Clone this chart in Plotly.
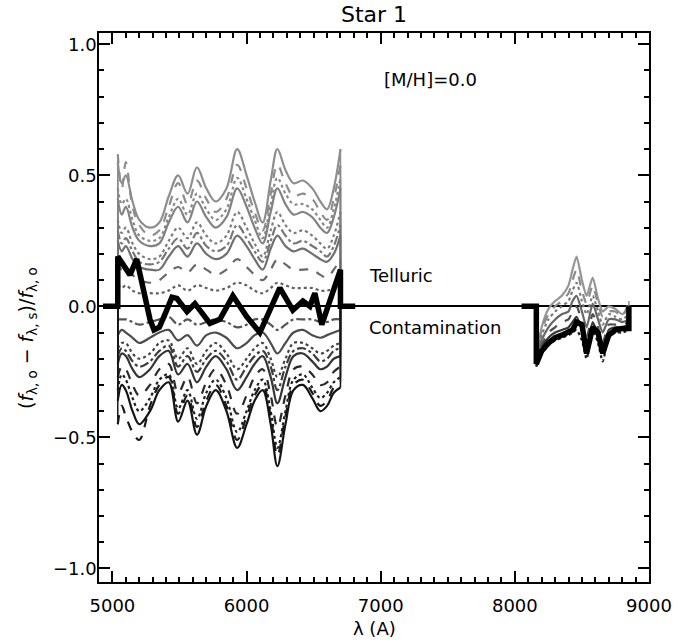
import plotly.graph_objects as go

# ---------------- data ----------------
left_x = [5040, 5070, 5100, 5150, 5200, 5280, 5350, 5420, 5490, 5560, 5630, 5700, 5770, 5850,
          5930, 6000, 6060, 6120, 6180, 6230, 6290, 6350, 6420, 6490, 6550, 6600, 6650, 6700]

lg_p100 = [0.55, 0.47, 0.50, 0.40, 0.33, 0.30, 0.32, 0.42, 0.50, 0.43, 0.53, 0.45, 0.40, 0.45,
           0.60, 0.50, 0.40, 0.32, 0.48, 0.60, 0.52, 0.47, 0.48, 0.45, 0.40, 0.37, 0.45, 0.60]
lg_p90 = [0.58, 0.45, 0.55, 0.38, 0.31, 0.27, 0.29, 0.38, 0.47, 0.39, 0.48, 0.41, 0.36, 0.41,
          0.54, 0.45, 0.36, 0.29, 0.43, 0.54, 0.47, 0.42, 0.43, 0.41, 0.36, 0.33, 0.41, 0.54]
lg_p82 = [0.45, 0.39, 0.41, 0.33, 0.27, 0.25, 0.26, 0.34, 0.41, 0.35, 0.43, 0.37, 0.33, 0.37,
          0.49, 0.41, 0.33, 0.26, 0.39, 0.49, 0.43, 0.39, 0.39, 0.37, 0.33, 0.30, 0.37, 0.49]
lg_p75 = [0.41, 0.35, 0.38, 0.30, 0.25, 0.23, 0.24, 0.32, 0.38, 0.32, 0.40, 0.34, 0.30, 0.34,
          0.45, 0.38, 0.30, 0.24, 0.36, 0.45, 0.39, 0.35, 0.36, 0.34, 0.30, 0.28, 0.34, 0.45]
lg_p60 = [0.33, 0.28, 0.30, 0.24, 0.20, 0.18, 0.19, 0.25, 0.30, 0.26, 0.32, 0.27, 0.24, 0.27,
          0.36, 0.30, 0.24, 0.19, 0.29, 0.36, 0.31, 0.28, 0.29, 0.27, 0.24, 0.22, 0.27, 0.36]
lg_p52 = [0.29, 0.24, 0.26, 0.21, 0.17, 0.16, 0.17, 0.22, 0.26, 0.22, 0.28, 0.23, 0.21, 0.23,
          0.31, 0.26, 0.21, 0.17, 0.25, 0.31, 0.27, 0.24, 0.25, 0.23, 0.21, 0.19, 0.23, 0.31]
lg_p45 = [0.25, 0.21, 0.23, 0.18, 0.15, 0.14, 0.14, 0.19, 0.23, 0.19, 0.24, 0.20, 0.18, 0.20,
          0.27, 0.23, 0.18, 0.14, 0.22, 0.27, 0.23, 0.21, 0.22, 0.20, 0.18, 0.17, 0.20, 0.27]
lg_p30 = [0.17, 0.14, 0.15, 0.12, 0.10, 0.09, 0.10, 0.13, 0.15, 0.13, 0.16, 0.14, 0.12, 0.14,
          0.18, 0.15, 0.12, 0.10, 0.14, 0.18, 0.16, 0.14, 0.14, 0.14, 0.12, 0.11, 0.14, 0.18]
lg_p15 = [0.08, 0.07, 0.08, 0.06, 0.05, 0.05, 0.05, 0.06, 0.08, 0.06, 0.08, 0.07, 0.06, 0.07,
          0.09, 0.08, 0.06, 0.05, 0.07, 0.09, 0.08, 0.07, 0.07, 0.07, 0.06, 0.06, 0.07, 0.09]
lg_m15 = [-0.05, -0.05, -0.05, -0.06, -0.07, -0.06, -0.05, -0.04, -0.07, -0.05, -0.07, -0.06, -0.05, -0.06,
          -0.08, -0.07, -0.05, -0.05, -0.07, -0.09, -0.07, -0.05, -0.05, -0.05, -0.06, -0.06, -0.05, -0.05]
lg_m30 = [-0.11, -0.09, -0.10, -0.12, -0.14, -0.12, -0.10, -0.09, -0.13, -0.11, -0.15, -0.11, -0.10, -0.12,
          -0.16, -0.14, -0.11, -0.10, -0.14, -0.18, -0.14, -0.10, -0.09, -0.11, -0.12, -0.11, -0.10, -0.09]
lg_m45 = [-0.16, -0.14, -0.14, -0.18, -0.20, -0.18, -0.14, -0.13, -0.20, -0.16, -0.22, -0.17, -0.14, -0.18,
          -0.24, -0.20, -0.16, -0.14, -0.20, -0.27, -0.20, -0.14, -0.14, -0.16, -0.18, -0.17, -0.15, -0.14]
lg_m52 = [-0.19, -0.16, -0.17, -0.21, -0.23, -0.21, -0.17, -0.15, -0.23, -0.19, -0.25, -0.20, -0.17, -0.21,
          -0.28, -0.23, -0.19, -0.17, -0.23, -0.32, -0.23, -0.17, -0.16, -0.18, -0.21, -0.20, -0.17, -0.16]
lg_m60 = [-0.22, -0.18, -0.19, -0.24, -0.27, -0.24, -0.19, -0.17, -0.26, -0.22, -0.29, -0.23, -0.19, -0.24,
          -0.32, -0.27, -0.22, -0.19, -0.27, -0.37, -0.27, -0.19, -0.18, -0.21, -0.24, -0.23, -0.20, -0.19]
lg_m75 = [-0.27, -0.23, -0.24, -0.30, -0.34, -0.30, -0.24, -0.22, -0.33, -0.27, -0.37, -0.29, -0.24, -0.30,
          -0.41, -0.34, -0.27, -0.24, -0.34, -0.46, -0.34, -0.24, -0.23, -0.26, -0.30, -0.29, -0.25, -0.23]
lg_m88 = [-0.32, -0.26, -0.28, -0.35, -0.40, -0.35, -0.28, -0.26, -0.39, -0.32, -0.43, -0.33, -0.28, -0.35,
          -0.48, -0.40, -0.32, -0.28, -0.40, -0.54, -0.40, -0.28, -0.26, -0.31, -0.35, -0.33, -0.29, -0.27]
lg_m94 = [-0.45, -0.38, -0.42, -0.48, -0.51, -0.38, -0.30, -0.27, -0.41, -0.34, -0.46, -0.36, -0.30, -0.38,
          -0.51, -0.42, -0.34, -0.30, -0.42, -0.57, -0.42, -0.30, -0.28, -0.33, -0.38, -0.36, -0.31, -0.29]
lg_m100 = [-0.36, -0.30, -0.32, -0.40, -0.45, -0.40, -0.32, -0.29, -0.44, -0.36, -0.49, -0.38, -0.32, -0.40,
           -0.54, -0.45, -0.36, -0.32, -0.45, -0.61, -0.45, -0.32, -0.30, -0.35, -0.40, -0.38, -0.33, -0.31]

right_x = [8160, 8200, 8250, 8300, 8350, 8400, 8430, 8460, 8500, 8535, 8580, 8620, 8655, 8700, 8750, 8800, 8850]
rg_1 = [-0.20, -0.08, -0.01, 0.02, 0.04, 0.08, 0.14, 0.19, 0.10, 0.04, 0.11, 0.03, -0.02, 0.00, -0.01, -0.03, 0.00]
rg_2 = [-0.20, -0.09, -0.03, 0.00, 0.02, 0.05, 0.10, 0.14, 0.06, 0.01, 0.08, 0.01, -0.04, -0.02, -0.02, -0.04, 0.02]
rg_3 = [-0.21, -0.11, -0.05, -0.02, 0.00, 0.02, 0.06, 0.09, 0.02, -0.03, 0.04, -0.02, -0.07, -0.03, -0.04, -0.05, -0.03]
rg_4 = [-0.21, -0.13, -0.08, -0.05, -0.03, -0.02, 0.02, 0.04, -0.02, -0.08, 0.01, -0.05, -0.10, -0.05, -0.05, -0.06, -0.05]
rg_5 = [-0.22, -0.15, -0.10, -0.08, -0.06, -0.05, -0.02, 0.00, -0.06, -0.12, -0.03, -0.08, -0.14, -0.07, -0.07, -0.07, -0.06]
rg_6 = [-0.22, -0.16, -0.12, -0.10, -0.09, -0.08, -0.06, -0.04, -0.09, -0.16, -0.06, -0.11, -0.17, -0.09, -0.08, -0.08, -0.07]
rg_7 = [-0.23, -0.18, -0.15, -0.13, -0.12, -0.11, -0.10, -0.09, -0.13, -0.20, -0.09, -0.14, -0.21, -0.12, -0.10, -0.10, -0.09]

star_left_x = [4930, 5040, 5040, 5131, 5181, 5205, 5280, 5310, 5350, 5400, 5444, 5481, 5556, 5615, 5727,
               5801, 5898, 6002, 6099, 6248, 6345, 6420, 6472, 6509, 6561, 6700, 6700, 6810]
star_left_y = [0, 0, 0.19, 0.12, 0.18, 0.12, -0.05, -0.09, -0.08, -0.02, 0.035, 0.03, -0.02, 0.01, -0.065,
               -0.05, 0.04, -0.04, -0.10, 0.07, -0.015, 0.02, 0.0, 0.05, -0.07, 0.14, 0, 0]
star_right_x = [8050, 8160, 8160, 8200, 8250, 8300, 8350, 8400, 8430, 8460, 8500, 8535, 8580, 8620,
                8655, 8700, 8750, 8800, 8850, 8850]
star_right_y = [0, 0, -0.22, -0.17, -0.14, -0.12, -0.11, -0.10, -0.09, -0.06, -0.07, -0.18, -0.08, -0.10,
                -0.18, -0.11, -0.09, -0.085, -0.085, 0]

x_ticks = [5000, 6000, 7000, 8000, 9000]
y_ticks = [-1.0, -0.5, 0.0, 0.5, 1.0]
y_ticktext = ["\u22121.0", "\u22120.5", "0.0", "0.5", "1.0"]

# ---------------- styles ----------------
left_curves = [lg_p100, lg_p90, lg_p82, lg_p75, lg_p60, lg_p52, lg_p45, lg_p30, lg_p15,
               lg_m15, lg_m30, lg_m45, lg_m52, lg_m60, lg_m75, lg_m88, lg_m94, lg_m100]
left_colors = ["#8e8e8e", "#8c8c8c", "#888888", "#828282", "#7c7c7c", "#767676", "#707070", "#686868",
               "#606060", "#555555", "#4c4c4c", "#444444", "#3c3c3c", "#343434", "#2a2a2a", "#202020",
               "#1a1a1a", "#141414"]
left_dashes = ["solid", "dash", "dot", "solid", "dot", "dashdot", "solid", "dash", "dot",
               "dashdot", "solid", "dot", "dashdot", "solid", "dash", "dot", "dash", "solid"]

right_curves = [rg_1, rg_2, rg_3, rg_4, rg_5, rg_6, rg_7]
right_colors = ["#959595", "#8a8a8a", "#7a7a7a", "#666666", "#4e4e4e", "#363636", "#1e1e1e"]
right_dashes = ["solid", "dash", "dot", "solid", "dash", "solid", "dot"]

FONT = "DejaVu Sans"

fig = go.Figure()


def add_group(xs, curves, colors, dashes, smooth):
    for ys, c, d in zip(curves, colors, dashes):
        fig.add_trace(go.Scatter(
            x=xs, y=ys, mode="lines",
            line=dict(color=c, width=2.2, dash=d, shape="spline", smoothing=smooth),
            hoverinfo="skip", showlegend=False))
        fig.add_trace(go.Scatter(
            x=[xs[0], xs[0], None, xs[-1], xs[-1]], y=[0, ys[0], None, ys[-1], 0],
            mode="lines", line=dict(color=c, width=1.5),
            hoverinfo="skip", showlegend=False))


add_group(left_x, left_curves, left_colors, left_dashes, 1.0)
add_group(right_x, right_curves, right_colors, right_dashes, 0.6)

for sx, sy in ((star_left_x, star_left_y), (star_right_x, star_right_y)):
    fig.add_trace(go.Scatter(x=sx, y=sy, mode="lines",
                             line=dict(color="black", width=5.5),
                             hoverinfo="skip", showlegend=False))

axis_common = dict(
    showline=True, linecolor="black", linewidth=1.5, mirror="ticks",
    ticks="inside", tickcolor="black", tickwidth=1.5, ticklen=11,
    showgrid=False, tickfont=dict(family=FONT, size=18, color="black"),
)

fig.update_layout(
    width=698, height=644,
    margin=dict(l=99, r=49, t=33, b=62),
    paper_bgcolor="white", plot_bgcolor="white",
    font=dict(family=FONT, size=18, color="black"),
    title=dict(text="Star 1", x=0.5, xref="paper", xanchor="center",
               y=1 - 14 / 644, yref="container", yanchor="middle",
               font=dict(family=FONT, size=22, color="black")),
    xaxis=dict(range=[4900, 9000], tickvals=x_ticks, ticklabelstandoff=7,
               minor=dict(dtick=100, ticks="inside", ticklen=5, tickcolor="black", tickwidth=1.5),
               zeroline=False, **axis_common),
    yaxis=dict(range=[-1.052, 1.043], tickvals=y_ticks, ticktext=y_ticktext, ticklabelstandoff=-3,
               minor=dict(dtick=0.1, ticks="inside", ticklen=5, tickcolor="black", tickwidth=1.5),
               zeroline=True, zerolinecolor="black", zerolinewidth=1.5, **axis_common),
    annotations=[
        dict(text="[M/H]=0.0", x=7373, y=0.866, xref="x", yref="y", showarrow=False,
             xanchor="center", yanchor="middle", font=dict(family=FONT, size=18)),
        dict(text="Telluric", x=6896, y=0.118, xref="x", yref="y", showarrow=False,
             xanchor="left", yanchor="middle", font=dict(family=FONT, size=18)),
        dict(text="Contamination", x=6896, y=-0.08, xref="x", yref="y", showarrow=False,
             xanchor="left", yanchor="middle", font=dict(family=FONT, size=18)),
        dict(text="\u03bb (A)", x=0.5, y=(582 - 628) / 549, xref="paper", yref="paper",
             showarrow=False, xanchor="center", yanchor="middle", font=dict(family=FONT, size=18)),
        dict(text="(<i>f</i><sub>\u03bb, o</sub> \u2212 <i>f</i><sub>\u03bb, s</sub>)/<i>f</i><sub>\u03bb, o</sub>",
             x=(27 - 99) / 550, y=(582 - 338) / 549, xref="paper", yref="paper", textangle=-90,
             showarrow=False, xanchor="center", yanchor="middle", font=dict(family=FONT, size=19)),
    ],
)

fig.write_html("out.html", config={"displayModeBar": False},
               post_script="document.body.style.margin='0';")
